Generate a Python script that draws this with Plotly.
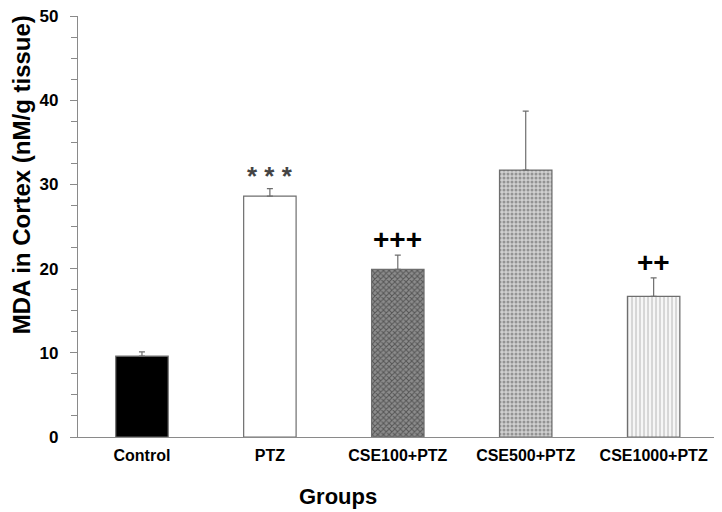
import plotly.graph_objects as go

groups = ["Control", "PTZ", "CSE100+PTZ", "CSE500+PTZ", "CSE1000+PTZ"]
means = [9.6, 28.6, 19.9, 31.7, 16.7]
errors = [0.5, 0.9, 1.7, 7.0, 2.2]
marks = ["", "* * *", "+++", "", "++"]

pat_shapes = ["", "", "x", ".", "|"]
pat_fg = ["black", "white", "#1e1e1e", "#555555", "#b0b0b0"]
pat_bg = ["black", "white", "#8c8c8c", "#d0d0d0", "#f6f6f6"]

fig = go.Figure()
for i, g in enumerate(groups):
    fig.add_trace(go.Bar(
        x=[g], y=[means[i]],
        width=0.41,
        marker=dict(
            color=pat_bg[i],
            line=dict(color="#6e6e6e", width=1.2),
            pattern=dict(shape=pat_shapes[i], fgcolor=pat_fg[i], bgcolor=pat_bg[i],
                         size=4, solidity=0.45, fillmode="overlay"),
        ),
        error_y=dict(type="data", symmetric=False, array=[errors[i]], arrayminus=[0],
                     color="#6e6e6e", thickness=1.2, width=3),
        showlegend=False,
    ))

font_family = "Liberation Sans, Arial, sans-serif"
for i, g in enumerate(groups):
    if marks[i]:
        star = "*" in marks[i]
        fig.add_annotation(
            x=g, y=means[i] + errors[i], text="<b>" + marks[i] + "</b>",
            showarrow=False, yanchor="bottom", yshift=(-4 if star else -2),
            font=dict(family=font_family, size=(26 if star else 28),
                      color="#444444" if star else "black"),
        )

# axis titles placed as annotations (reference titles are not centred on the plot)
fig.add_annotation(xref="paper", yref="paper", x=0.402, y=-0.1425, yanchor="middle",
                   text="<b>Groups</b>", showarrow=False,
                   font=dict(family=font_family, size=22, color="black"))
fig.add_annotation(xref="paper", yref="paper", x=-0.088, y=0.622, xanchor="center", yanchor="middle",
                   textangle=-90, text="<b>MDA in Cortex (nM/g tissue)</b>", showarrow=False,
                   font=dict(family=font_family, size=24, color="black"))

fig.update_layout(
    width=722, height=512,
    margin=dict(l=70, r=6, t=8, b=83),
    paper_bgcolor="white", plot_bgcolor="white",
    font=dict(family=font_family, color="black"),
    xaxis=dict(
        type="category", range=[-0.5, 4.55], automargin=False,
        showline=True, linecolor="#8a8a8a", linewidth=1.2,
        ticks="", showgrid=False, zeroline=False, ticklabelstandoff=4,
        tickfont=dict(size=16, family=font_family, weight="bold"),
    ),
    yaxis=dict(
        range=[0, 50], tickmode="array", tickvals=[0, 10, 20, 30, 40, 50], automargin=False,
        showline=True, linecolor="#8a8a8a", linewidth=1.2,
        ticks="outside", ticklen=7, tickcolor="#8a8a8a", tickwidth=1,
        minor=dict(tickvals=[2.5, 5, 7.5, 12.5, 15, 17.5, 22.5, 25, 27.5, 32.5, 35, 37.5, 42.5, 45, 47.5],
                   ticks="outside", ticklen=6, tickcolor="#8a8a8a", tickwidth=1),
        showgrid=False, zeroline=False, ticklabelstandoff=8, ticklabeloverflow="allow",
        tickfont=dict(size=17, family=font_family, weight="bold"),
    ),
)

fig.write_html("out.html")
